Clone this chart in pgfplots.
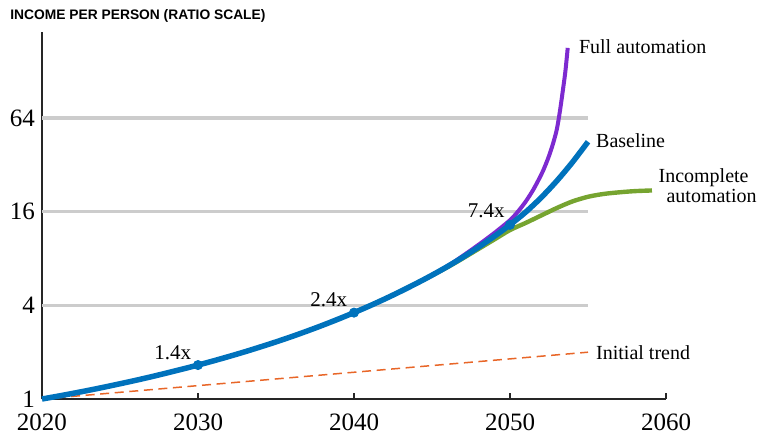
\documentclass[border=0pt]{standalone}
\usepackage{fontspec}
\setmainfont{Liberation Serif}
\newfontfamily\titlefont{Liberation Sans}
\usepackage{pgfplots}
\pgfplotsset{compat=1.18}
\definecolor{cblue}{RGB}{0,114,188}
\definecolor{cpurple}{RGB}{125,42,208}
\definecolor{cgreen}{RGB}{118,164,48}
\definecolor{corange}{RGB}{232,102,40}
\definecolor{gridc}{RGB}{204,204,204}
\begin{document}
\begin{tikzpicture}
\begin{axis}[
  scale only axis, width=312pt, height=183.35pt,
  xmin=2020, xmax=2060, ymin=1, ymax=228,
  ymode=log, log basis y=2,
  axis x line*=bottom, axis y line*=left,
  axis line style={-, line width=0.6pt, black!85},
  xtick={2020,2030,2040,2050,2060},
  ytick={1,4,16,64}, yticklabels={1,4,16,64},
  yminorticks=false, xminorticks=false,
  tick align=inside, major tick length=3pt,
  tick style={black!85, line width=0.6pt},
  /pgf/number format/assume math mode=true,
  x tick label style={/pgf/number format/1000 sep={}, inner sep=0pt, yshift=-7.2pt},
  tick label style={font=\fontsize{12.5}{14}\selectfont},
  clip=false,
]
% gridlines
\addplot[gridc, line width=1.75pt, forget plot] coordinates {(2020,4) (2055,4)};
\addplot[gridc, line width=1.75pt, forget plot] coordinates {(2020,16) (2055,16)};
\addplot[gridc, line width=1.75pt, forget plot] coordinates {(2020,64) (2055,64)};
% initial trend
\addplot[corange, line width=0.75pt, dash pattern=on 4.5pt off 2.8pt] coordinates {(2020,1) (2055,2)};
% full automation
\addplot[cpurple, line width=2pt, smooth] coordinates {
(2040,3.593) (2042,4.411) (2044,5.537) (2046,7.17) (2047,8.36) (2048,9.84) (2049,11.69) (2050,14.12)
(2050.5,16) (2051,18.57) (2051.5,22.25) (2052,27.68) (2052.25,31.52) (2052.5,36.58) (2052.75,43.62)
(2053,54.12) (2053.2,71.01) (2053.4,98.36) (2053.55,128) (2053.7,181.0)};
% incomplete automation
\addplot[cgreen, line width=2.2pt, smooth] coordinates {
(2040,3.593) (2042,4.411) (2044,5.537) (2046,7.05) (2047,8.05) (2048,9.25) (2049,10.62) (2050,12.20)
(2051,13.55) (2052,15.14) (2053,16.91) (2054,18.64) (2055,19.97) (2056,20.82) (2057,21.33) (2058,21.71) (2059.1,21.93)};
% baseline
\addplot[cblue, line width=2.75pt, smooth] coordinates {
(2020,1) (2021,1.042) (2022,1.088) (2023,1.138) (2024,1.193) (2025,1.253) (2026,1.318) (2027,1.390)
(2028,1.470) (2029,1.557) (2030,1.653) (2031,1.760) (2032,1.879) (2033,2.012) (2034,2.162) (2035,2.329)
(2036,2.519) (2037,2.736) (2038,2.983) (2039,3.267) (2040,3.593) (2041,3.970) (2042,4.411) (2043,4.928)
(2044,5.537) (2045,6.255) (2046,7.120) (2047,8.185) (2048,9.501) (2049,11.13) (2050,13.18) (2051,15.90)
(2052,19.75) (2053,25.26) (2054,33.27) (2055,45.10)};
\addplot[only marks, mark=*, mark size=2.3pt, cblue] coordinates {(2030,1.653) (2040,3.593) (2050,13.18)};
% annotations
\node[anchor=base east, inner sep=0, xshift=-3.2pt, yshift=3pt, font=\fontsize{10.5}{12}\selectfont] at (axis cs:2030,1.653) {1.4x};
\node[anchor=base east, inner sep=0, xshift=-3.2pt, yshift=3pt, font=\fontsize{10.5}{12}\selectfont] at (axis cs:2040,3.593) {2.4x};
\node[anchor=base east, inner sep=0, xshift=-2.5pt, yshift=3.5pt, font=\fontsize{10.5}{12}\selectfont] at (axis cs:2050,13.18) {7.4x};
\node[anchor=west, inner sep=0, font=\fontsize{10}{12}\selectfont] at (axis cs:2054.4,185) {Full automation};
\node[anchor=west, inner sep=0, font=\fontsize{10}{12}\selectfont] at (axis cs:2055.5,46) {Baseline};
\node[anchor=west, inner sep=0, align=left, font=\fontsize{10}{8}\selectfont] at (axis cs:2059.5,23.5) {Incomplete\\\hspace*{4pt}automation};
\node[anchor=west, inner sep=0, font=\fontsize{10}{12}\selectfont] at (axis cs:2055.5,1.98) {Initial trend};
\end{axis}
\node[anchor=base west, inner sep=0, font=\titlefont\bfseries\fontsize{6.9}{8}\selectfont] at (-16pt,189.5pt) {INCOME PER PERSON (RATIO SCALE)};
\pgfresetboundingbox
\path[use as bounding box] (-21pt,-17pt) rectangle (358.5pt,199.5pt);
\end{tikzpicture}
\end{document}
